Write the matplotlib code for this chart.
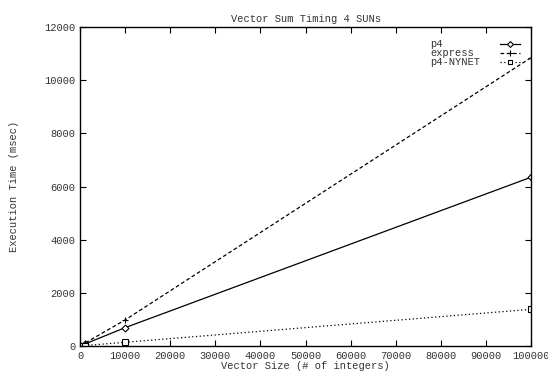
import matplotlib.pyplot as plt

sizes = [10, 100, 1000, 10000, 100000]
p4 = [2, 8, 70, 690, 6350]
express = [3, 12, 100, 980, 10850]
nynet = [1, 3, 15, 140, 1380]

plt.rcParams['font.family'] = ['Liberation Mono', 'DejaVu Sans Mono']
plt.rcParams['font.size'] = 7.5

fig = plt.figure(figsize=(5.48, 3.73), dpi=100)
ax = fig.add_axes([0.146, 0.0724, 0.823, 0.855])

styles = [
    ('p4', p4, dict(linestyle='-', marker='D', markersize=3.5, markerfacecolor='white')),
    ('express', express, dict(linestyle=(0, (3, 2)), marker='+', markersize=5)),
    ('p4-NYNET', nynet, dict(linestyle=(0, (1, 2)), marker='s', markersize=4, markerfacecolor='white')),
]

for name, vals, st in styles:
    ax.plot(sizes, vals, color='black', linewidth=0.9, markeredgewidth=0.8, **st)

# key in the upper right, labels left-aligned with the sample line after them
rows = [0.947, 0.918, 0.889]
for (name, vals, st), yy in zip(styles, rows):
    ax.text(0.776, yy, name, transform=ax.transAxes, ha='left', va='center', color='#333333')
    ax.plot([0.931, 0.976], [yy, yy], transform=ax.transAxes, color='black', linewidth=0.9,
            linestyle=st['linestyle'], clip_on=False)
    ax.plot([0.953], [yy], transform=ax.transAxes, color='black', marker=st['marker'],
            markersize=st['markersize'] * 0.85, markerfacecolor=st.get('markerfacecolor', 'black'),
            markeredgewidth=0.8, clip_on=False)

ax.set_xlim(0, 100000)
ax.set_ylim(0, 12000)
ax.set_xticks(range(0, 100001, 10000))
ax.set_yticks(range(0, 12001, 2000))
ax.tick_params(direction='in', top=True, right=True, length=4, width=0.8, colors='black',
               labelcolor='#333333')
for s in ax.spines.values():
    s.set_linewidth(1.0)

ax.set_title('Vector Sum Timing 4 SUNs', fontsize=7.5, color='#333333', pad=4)
ax.set_xlabel('Vector Size (# of integers)', color='#333333', labelpad=0)
ax.set_ylabel('Execution Time (msec)', color='#333333', labelpad=18)

plt.savefig('out.png', dpi=100)
